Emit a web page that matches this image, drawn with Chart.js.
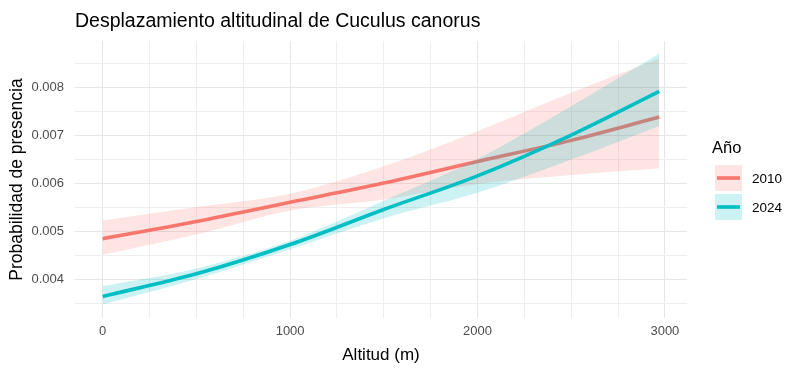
<!DOCTYPE html>
<html>
<head>
<meta charset="utf-8">
<script src="https://cdn.jsdelivr.net/npm/chart.js@4.4.1/dist/chart.umd.min.js"></script>
<style>
  body { margin: 0; background: #ffffff; }
  #wrap { width: 803px; height: 373px; position: relative; }
</style>
</head>
<body>
<div id="wrap"><canvas id="chart"></canvas></div>
<script>
// data
const altitud = [0, 500, 1000, 1500, 2000, 2500, 2970];

const fit2010 = [0.00484, 0.0052, 0.0056, 0.0060, 0.00645, 0.00689, 0.007375];
const upr2010 = [0.00522, 0.0055, 0.00578, 0.00635, 0.00708, 0.00788, 0.0086];
const lwr2010 = [0.00451, 0.00493, 0.00543, 0.00566, 0.00598, 0.00617, 0.00631];

const fit2024 = [0.00364, 0.00411, 0.00472, 0.00545, 0.00615, 0.0070, 0.00791];
const upr2024 = [0.00385, 0.00422, 0.0048, 0.00563, 0.0065, 0.0076, 0.0087];
const lwr2024 = [0.00347, 0.004, 0.00462, 0.00527, 0.0058, 0.00649, 0.00719];

const years = ['2010', '2024'];
const xTicks = [0, 1000, 2000, 3000];
const yTicks = [0.004, 0.005, 0.006, 0.007, 0.008];

const titleText = 'Desplazamiento altitudinal de Cuculus canorus';

const RED = '#F8766D';
const TEAL = '#00BFC4';
const RED_FILL = 'rgba(248,118,109,0.2)';
const TEAL_FILL = 'rgba(0,191,196,0.2)';
const FONT = '"Liberation Sans", Arial, sans-serif';

Chart.defaults.font.family = FONT;

const pts = (ys) => altitud.map((x, i) => ({ x: x, y: ys[i] }));

// minor grid lines sit halfway between the labelled ones
function withMinors(major) {
    const step = major[1] - major[0];
    const out = [major[0] - step / 2];
    major.forEach(v => { out.push(v); out.push(v + step / 2); });
    return out;
}
const isMajor = (list, v) => list.some(m => Math.abs(m - v) < 1e-9);

const band = (ys, fillTo, color, order) => ({
    data: pts(ys),
    borderWidth: 0,
    pointRadius: 0,
    fill: fillTo,
    backgroundColor: color,
    cubicInterpolationMode: 'monotone',
    order: order
});

const line = (ys, color, order) => ({
    data: pts(ys),
    borderColor: color,
    borderWidth: 3.6,
    pointRadius: 0,
    fill: false,
    cubicInterpolationMode: 'monotone',
    order: order
});

// title drawn at the panel's left edge, like ggplot
const titlePlugin = {
    id: 'leftTitle',
    afterDraw(chart) {
        const c = chart.ctx;
        c.save();
        c.font = '19.5px ' + FONT;
        c.fillStyle = '#000000';
        c.textAlign = 'left';
        c.textBaseline = 'alphabetic';
        c.fillText(titleText, chart.chartArea.left, 27);
        c.restore();
    }
};

// legend with ribbon + line keys
const legendPlugin = {
    id: 'ribbonLegend',
    afterDraw(chart) {
        const c = chart.ctx;
        const x0 = 715;
        c.save();
        c.textAlign = 'left';
        c.textBaseline = 'middle';
        c.fillStyle = '#000000';
        c.font = '16.5px ' + FONT;
        c.fillText('Año', 712, 148);

        const fills = [RED_FILL, TEAL_FILL];
        const cols = [RED, TEAL];
        years.forEach((yr, i) => {
            const top = 165 + i * 29;
            c.fillStyle = fills[i];
            c.fillRect(x0, top, 27, 26);
            c.strokeStyle = cols[i];
            c.lineWidth = 3.6;
            c.beginPath();
            c.moveTo(x0 + 2, top + 13);
            c.lineTo(x0 + 25, top + 13);
            c.stroke();
            c.fillStyle = '#000000';
            c.font = '13.5px ' + FONT;
            c.fillText(yr, 752, top + 14);
        });
        c.restore();
    }
};

new Chart(document.getElementById('chart'), {
    type: 'line',
    data: {
        datasets: [
            band(upr2010, 1, RED_FILL, 4),
            band(lwr2010, false, RED_FILL, 4),
            line(fit2010, RED, 3),
            band(upr2024, 4, TEAL_FILL, 2),
            band(lwr2024, false, TEAL_FILL, 2),
            line(fit2024, TEAL, 1)
        ]
    },
    options: {
        responsive: true,
        maintainAspectRatio: false,
        animation: false,
        layout: { padding: { top: 41, right: 116, left: 0, bottom: 0 } },
        plugins: {
            legend: { display: false },
            title: { display: false },
            tooltip: { enabled: false }
        },
        scales: {
            x: {
                type: 'linear',
                min: -148,
                max: 3118,
                afterBuildTicks: s => { s.ticks = withMinors([0, 500, 1000, 1500, 2000, 2500, 3000]).filter(v => v > s.min && v < s.max).map(v => ({ value: v })); },
                afterFit: s => { s.height = 55; },
                border: { display: false },
                grid: {
                    drawTicks: false,
                    color: ctx => isMajor(xTicks, ctx.tick.value) ? '#E6E6E6' : '#EEEEEE',
                    lineWidth: 1
                },
                ticks: {
                    autoSkip: false,
                    maxRotation: 0,
                    padding: 6,
                    color: '#4D4D4D',
                    font: { size: 13 },
                    callback: v => isMajor(xTicks, v) ? String(v) : ''
                },
                title: {
                    display: true,
                    text: 'Altitud (m)',
                    color: '#000000',
                    font: { size: 17 },
                    padding: { top: 0, bottom: 7 }
                }
            },
            y: {
                min: 0.00319,
                max: 0.00896,
                afterBuildTicks: s => { s.ticks = withMinors(yTicks).filter(v => v > s.min && v < s.max).map(v => ({ value: v })); },
                afterFit: s => { s.width = 75; },
                border: { display: false },
                grid: {
                    drawTicks: false,
                    color: ctx => isMajor(yTicks, ctx.tick.value) ? '#E6E6E6' : '#EEEEEE',
                    lineWidth: 1
                },
                ticks: {
                    autoSkip: false,
                    padding: 11,
                    color: '#4D4D4D',
                    font: { size: 13 },
                    callback: v => isMajor(yTicks, v) ? v.toFixed(3) : ''
                },
                title: {
                    display: true,
                    text: 'Probabilidad de presencia',
                    color: '#000000',
                    font: { size: 17.5 },
                    padding: { top: 7, bottom: 0 }
                }
            }
        }
    },
    plugins: [titlePlugin, legendPlugin]
});
</script>
</body>
</html>
